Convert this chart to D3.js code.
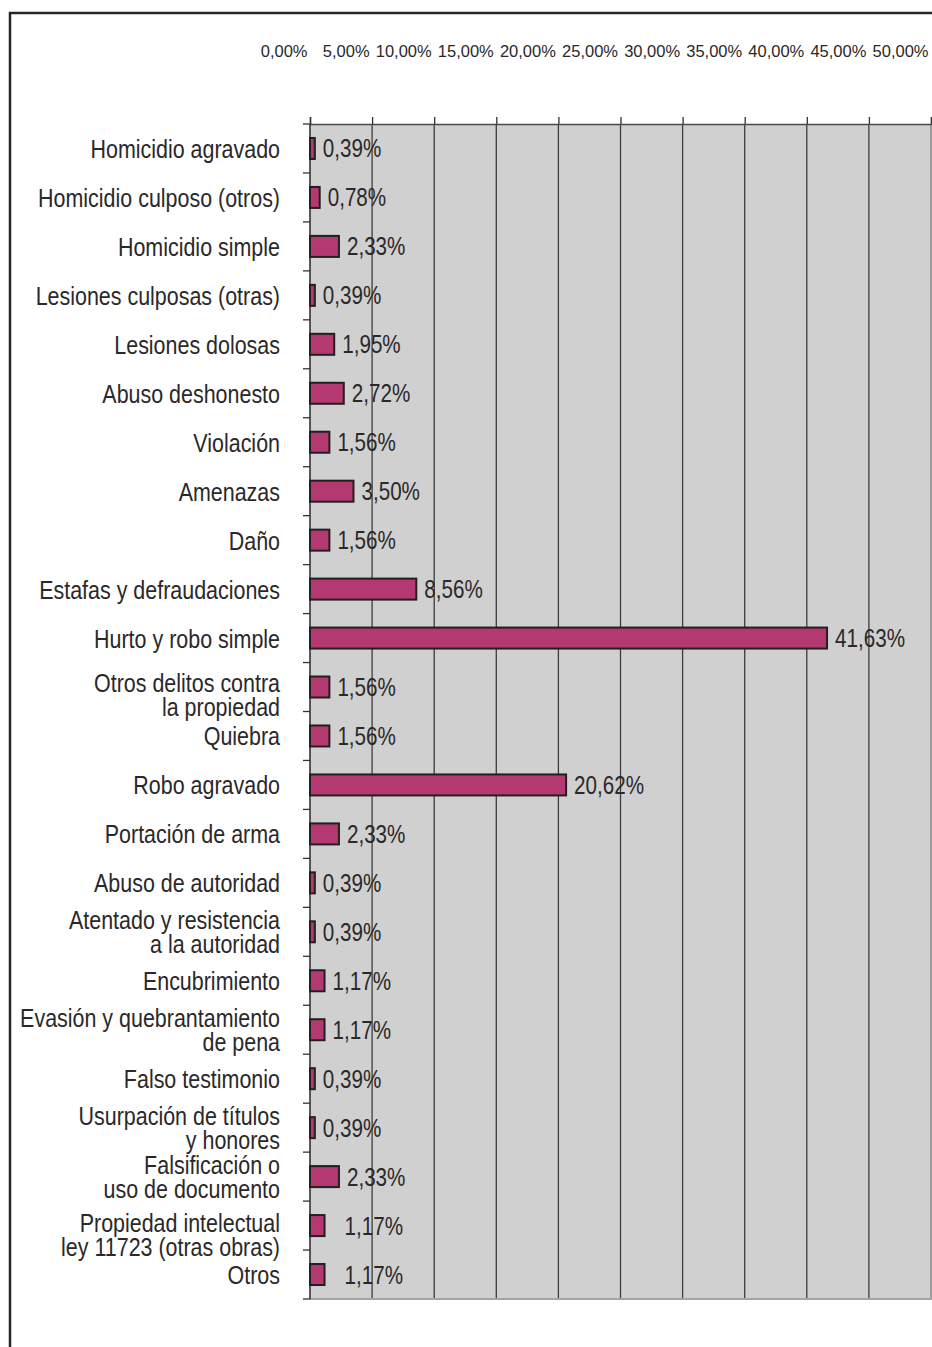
<!DOCTYPE html>
<html><head><meta charset="utf-8">
<script src="https://cdn.jsdelivr.net/npm/d3@7"></script>
<style>
html,body{margin:0;padding:0;background:#fff;}
svg{display:block;}
</style></head>
<body>
<svg id="chart" width="932" height="1347"></svg>
<script>
const categories = [
  "Homicidio agravado",
  "Homicidio culposo (otros)",
  "Homicidio simple",
  "Lesiones culposas (otras)",
  "Lesiones dolosas",
  "Abuso deshonesto",
  "Violación",
  "Amenazas",
  "Daño",
  "Estafas y defraudaciones",
  "Hurto y robo simple",
  "Otros delitos contra\nla propiedad",
  "Quiebra",
  "Robo agravado",
  "Portación de arma",
  "Abuso de autoridad",
  "Atentado y resistencia\na la autoridad",
  "Encubrimiento",
  "Evasión y quebrantamiento\nde pena",
  "Falso testimonio",
  "Usurpación de títulos\ny honores",
  "Falsificación o\nuso de documento",
  "Propiedad intelectual\nley 11723 (otras obras)",
  "Otros"
];
const values = [0.39, 0.78, 2.33, 0.39, 1.95, 2.72, 1.56, 3.50, 1.56, 8.56, 41.63, 1.56, 1.56, 20.62, 2.33, 0.39, 0.39, 1.17, 1.17, 0.39, 0.39, 2.33, 1.17, 1.17];
const tickValues = [0, 5, 10, 15, 20, 25, 30, 35, 40, 45, 50];

const locale = d3.formatLocale({decimal: ",", thousands: ".", grouping: [3], currency: ["", ""]});
const fmt = v => locale.format(".2f")(v) + "%";

const svg = d3.select("#chart");
const pL = 310, pR = 931, pT = 124, pB = 1299;
const x = d3.scaleLinear().domain([0, 50]).range([pL, pR]);
const y = d3.scaleBand().domain(d3.range(categories.length)).range([pT, pB]).padding(0);

const FONT = "'Liberation Sans', Arial, sans-serif";
const SX = 0.825; // horizontal condensing to mimic a condensed face
const textColor = "#2b2829";

// outer frame
svg.append("path")
  .attr("d", "M10,1347 L10,13 L932,13")
  .attr("fill", "none").attr("stroke", "#262626").attr("stroke-width", 2.5);

// plot background
svg.append("rect")
  .attr("x", pL).attr("y", pT).attr("width", pR - pL).attr("height", pB - pT)
  .attr("fill", "#d0d0d0");

// gridlines
svg.append("g").selectAll("line")
  .data(tickValues.filter(t => t > 0 && t < 50))
  .join("line")
  .attr("x1", d => x(d)).attr("x2", d => x(d))
  .attr("y1", pT).attr("y2", pB)
  .attr("stroke", "#3c3c3c").attr("stroke-width", 1.3);

// right & bottom edges
svg.append("line").attr("x1", pR).attr("x2", pR).attr("y1", pT).attr("y2", pB + 1)
  .attr("stroke", "#9a9a9a").attr("stroke-width", 2);
svg.append("line").attr("x1", pL).attr("x2", pR + 1).attr("y1", pB).attr("y2", pB)
  .attr("stroke", "#a4a4a4").attr("stroke-width", 2);

// top axis
const topAxis = d3.axisTop(x).tickValues(tickValues).tickSize(7).tickPadding(60)
  .tickFormat(d => fmt(d));
const gTop = svg.append("g").attr("transform", `translate(0,${pT})`).call(topAxis);
gTop.select(".domain").attr("stroke", "#4a4a4a").attr("stroke-width", 1.5);
gTop.selectAll(".tick line").attr("stroke", "#333").attr("stroke-width", 1.3);
gTop.selectAll(".tick text")
  .attr("text-anchor", "end").attr("dx", -3)
  .attr("font-family", FONT).attr("font-size", 16.5)
  .attr("fill", textColor);

// left axis line and ticks at band boundaries
const boundaries = d3.range(categories.length + 1).map(i => i < categories.length ? y(i) : pB);
svg.append("line").attr("x1", pL).attr("x2", pL).attr("y1", pT).attr("y2", pB)
  .attr("stroke", "#333").attr("stroke-width", 1.6);
svg.append("g").selectAll("line").data(boundaries).join("line")
  .attr("x1", pL - 7).attr("x2", pL).attr("y1", d => d).attr("y2", d => d)
  .attr("stroke", "#333").attr("stroke-width", 1.3);

// bars
const barH = 21;
svg.append("g").selectAll("rect").data(values).join("rect")
  .attr("x", x(0))
  .attr("y", (d, i) => y(i) + y.bandwidth() / 2 - barH / 2)
  .attr("width", d => x(d) - x(0))
  .attr("height", barH)
  .attr("fill", "#b43970")
  .attr("stroke", "#231f20").attr("stroke-width", 2);

// value labels
const extraPad = {22: 12, 23: 12};
svg.append("g").selectAll("text").data(values).join("text")
  .attr("transform", (d, i) =>
    `translate(${x(d) + 8 + (extraPad[i] || 0)},${y(i) + y.bandwidth() / 2 + 9}) scale(${SX},1)`)
  .attr("font-family", FONT).attr("font-size", 25)
  .attr("fill", textColor)
  .text(d => fmt(d));

// category labels
const lineGap = 24;
const firstLineShift = {11: 7, 22: 9};
const gCat = svg.append("g");
categories.forEach((c, i) => {
  const lines = c.split("\n");
  const cy = y(i) + y.bandwidth() / 2 + (firstLineShift[i] || 0);
  const startY = cy - (lines.length - 1) * lineGap / 2 + 9.5;
  const t = gCat.append("text")
    .attr("transform", `translate(280,${startY}) scale(${SX},1)`)
    .attr("text-anchor", "end")
    .attr("font-family", FONT).attr("font-size", 26)
    .attr("fill", textColor);
  lines.forEach((ln, k) => {
    t.append("tspan").attr("x", 0).attr("y", k * lineGap).text(ln);
  });
});
</script>
</body></html>
